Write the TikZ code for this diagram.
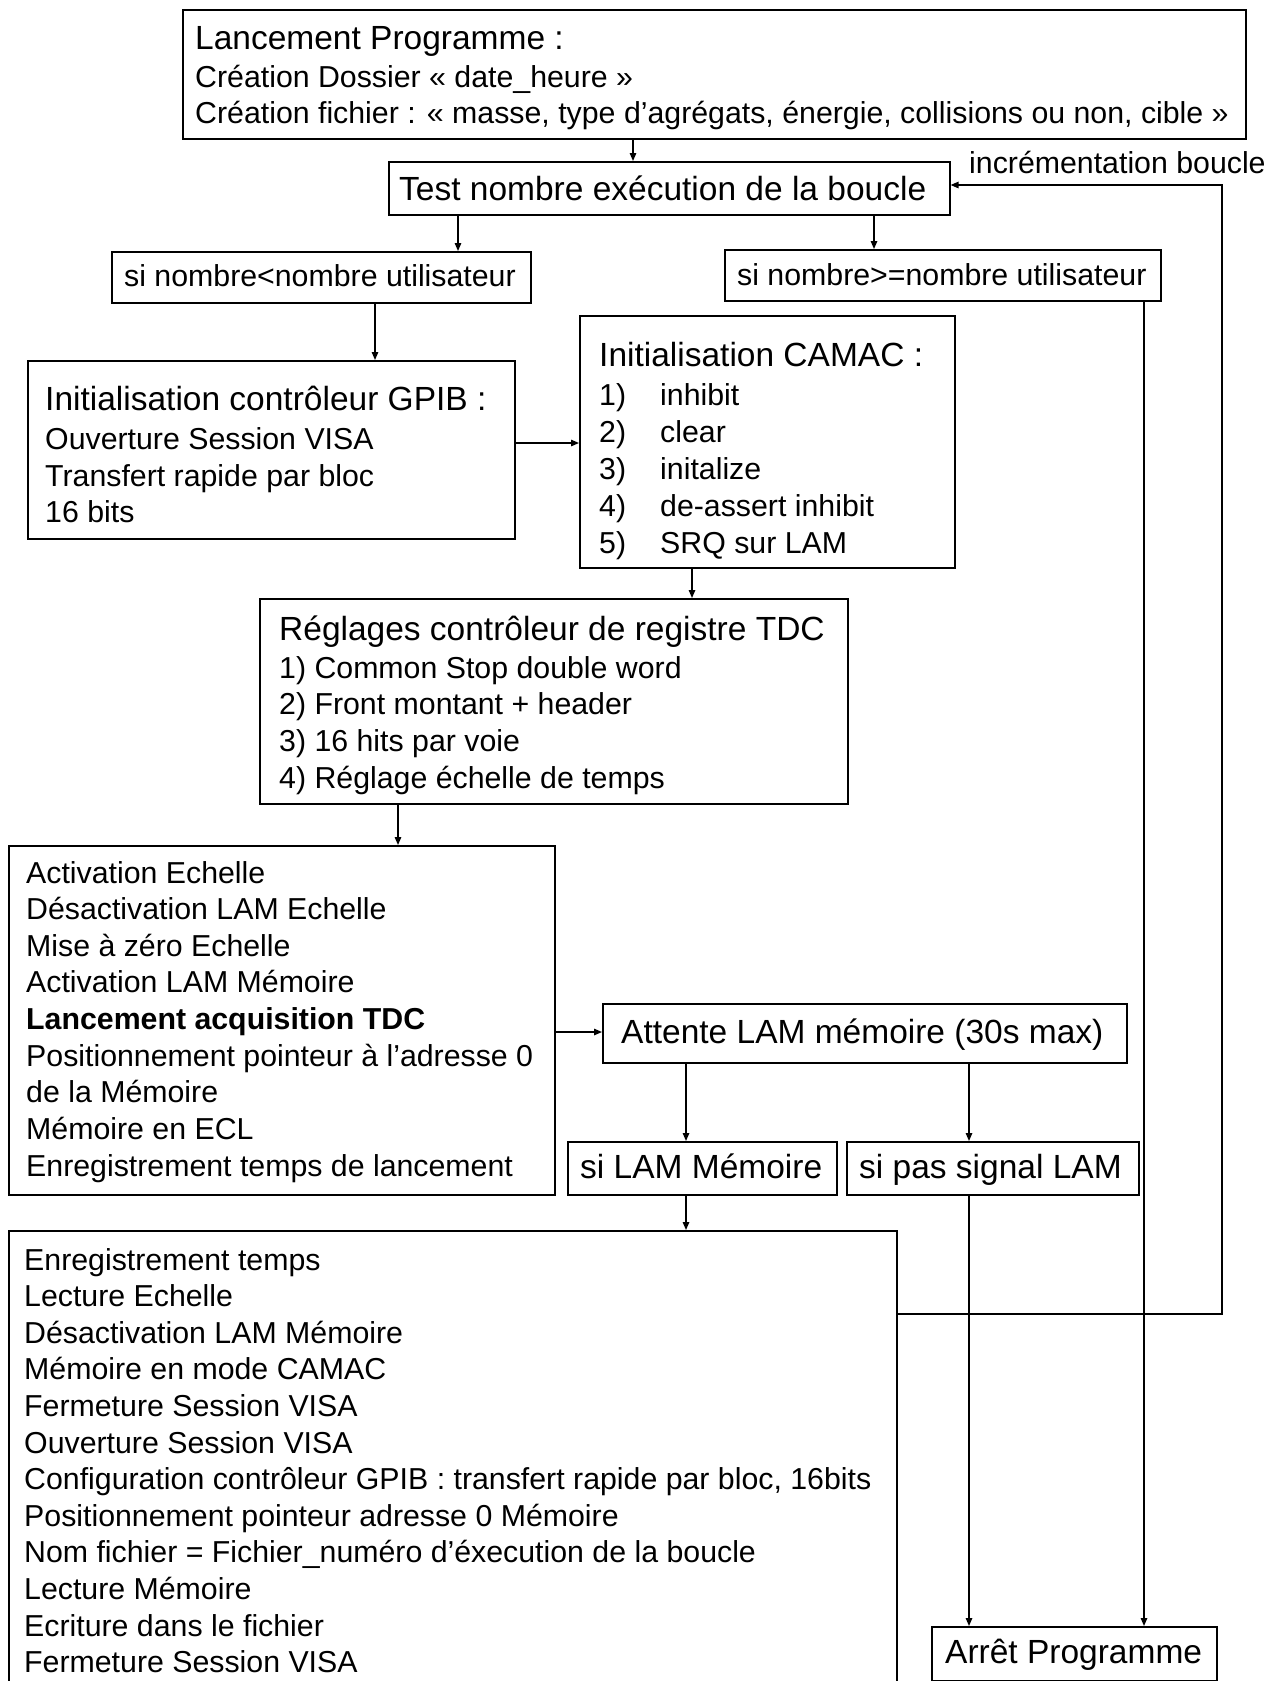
\documentclass[tikz,border=0pt]{standalone}
\usepackage{fontspec}
\setmainfont{Liberation Sans}
\usetikzlibrary{arrows.meta}
\begin{document}
\begin{tikzpicture}[x=1pt,y=-1pt,
  box/.style={draw, line width=1.6pt, inner sep=0pt, anchor=north west},
  tt/.style={anchor=base west, inner sep=0pt, font=\fontsize{33.5}{40}\selectfont},
  bd/.style={anchor=base west, inner sep=0pt, font=\fontsize{30.3}{36}\selectfont},
  arr/.style={line width=1.4pt, -{Triangle[length=8pt,width=6.5pt]}},
  ln/.style={line width=1.4pt}]
\useasboundingbox (0,0) rectangle (1277,1681);
\clip (0,0) rectangle (1277,1681);
\fill[white] (0,0) rectangle (1277,1681);

% boxes
\node[box, minimum width=1063pt, minimum height=129pt] (top) at (182,9) {};
\node[box, minimum width=561pt, minimum height=53pt] (test) at (388,161) {};
\node[box, minimum width=419pt, minimum height=51pt] (sinf) at (111,251) {};
\node[box, minimum width=436pt, minimum height=51pt] (ssup) at (724,249) {};
\node[box, minimum width=487pt, minimum height=178pt] (gpib) at (27,360) {};
\node[box, minimum width=375pt, minimum height=252pt] (camac) at (579,315) {};
\node[box, minimum width=588pt, minimum height=205pt] (tdc) at (259,598) {};
\node[box, minimum width=546pt, minimum height=349pt] (activ) at (8,845) {};
\node[box, minimum width=524pt, minimum height=59pt] (attente) at (602,1003) {};
\node[box, minimum width=269pt, minimum height=53pt] (silam) at (567,1141) {};
\node[box, minimum width=292pt, minimum height=53pt] (sipas) at (846,1141) {};
\node[box, minimum width=888pt, minimum height=480pt] (enreg) at (8,1230) {};
\node[box, minimum width=285pt, minimum height=54pt] (arret) at (931,1626) {};

% texts
\node[tt] (top-t1) at (195,49) {Lancement Programme :};
\node[bd] (top-t2) at (195,87) {Création Dossier « date\_heure »};
\node[bd] (top-t3) at (195,123) {Création fichier : « masse, type d’agrégats, énergie, collisions ou non, cible »};
\node[tt] (test-t) at (399,200) {Test nombre exécution de la boucle};
\node[bd] (incr) at (969,173) {incrémentation boucle};
\node[bd] (sinf-t) at (124,286) {si nombre<nombre utilisateur};
\node[bd] (ssup-t) at (737,285) {si nombre>=nombre utilisateur};
\node[tt] (gpib-t1) at (45,410) {Initialisation contrôleur GPIB :};
\node[bd] (gpib-t2) at (45,449) {Ouverture Session VISA};
\node[bd] (gpib-t3) at (45,486) {Transfert rapide par bloc};
\node[bd] (gpib-t4) at (45,522) {16 bits};
\node[tt] (camac-t) at (599,366) {Initialisation CAMAC :};
\foreach \t [count=\i from 1] in {inhibit,clear,initalize,de-assert inhibit,SRQ sur LAM}{
  \node[bd] (camac-n\i) at (599,405+37*\i-37) {\i)};
  \node[bd] (camac-i\i) at (660,405+37*\i-37) {\t};
}
\node[tt] (tdc-t) at (279,640) {Réglages contrôleur de registre TDC};
\foreach \t [count=\i from 1] in {1) Common Stop double word,2) Front montant + header,3) 16 hits par voie,4) Réglage échelle de temps}{
  \node[bd] (tdc-i\i) at (279,678+36.7*\i-36.7) {\t};
}
\foreach \t [count=\i from 0] in {Activation Echelle,Désactivation LAM Echelle,Mise à zéro Echelle,Activation LAM Mémoire,{\bfseries Lancement acquisition TDC},Positionnement pointeur à l’adresse 0,de la Mémoire,Mémoire en ECL,Enregistrement temps de lancement}{
  \node[bd] (activ-l\i) at (26,883+36.65*\i) {\t};
}
\node[tt] (attente-t) at (621,1043) {Attente LAM mémoire (30s max)};
\node[tt] (silam-t) at (580,1178) {si LAM Mémoire};
\node[tt] (sipas-t) at (859,1178) {si pas signal LAM};
\foreach \t [count=\i from 0] in {Enregistrement temps,Lecture Echelle,Désactivation LAM Mémoire,Mémoire en mode CAMAC,Fermeture Session VISA,Ouverture Session VISA,{Configuration contrôleur GPIB : transfert rapide par bloc, 16bits},Positionnement pointeur adresse 0 Mémoire,Nom fichier = Fichier\_numéro d’éxecution de la boucle,Lecture Mémoire,Ecriture dans le fichier,Fermeture Session VISA}{
  \node[bd] (enreg-l\i) at (24,1270+36.6*\i) {\t};
}
\node[tt] (arret-t) at (945,1663) {Arrêt Programme};

% column / row helpers
\coordinate (xa) at (633,0);
\coordinate (xb) at (458,0);
\coordinate (xc) at (874,0);
\coordinate (xd) at (375,0);
\coordinate (ya) at (0,443);
\coordinate (xe) at (692,0);
\coordinate (xf) at (398,0);
\coordinate (yb) at (0,1032);
\coordinate (xg) at (686,0);
\coordinate (xh) at (969,0);
\coordinate (xi) at (1144,0);
\coordinate (fbl) at (1222,1314);
\coordinate (fbt) at (1222,185);

% connectors
\draw[arr] (top.south -| xa) -- (test.north -| xa);
\draw[arr] (test.south -| xb) -- (sinf.north -| xb);
\draw[arr] (test.south -| xc) -- (ssup.north -| xc);
\draw[arr] (sinf.south -| xd) -- (gpib.north -| xd);
\draw[arr] (gpib.east |- ya) -- (camac.west |- ya);
\draw[arr] (camac.south -| xe) -- (tdc.north -| xe);
\draw[arr] (tdc.south -| xf) -- (activ.north -| xf);
\draw[arr] (activ.east |- yb) -- (attente.west |- yb);
\draw[arr] (attente.south -| xg) -- (silam.north -| xg);
\draw[arr] (attente.south -| xh) -- (sipas.north -| xh);
\draw[arr] (silam.south -| xg) -- (enreg.north -| xg);
\draw[arr] (sipas.south -| xh) -- (arret.north -| xh);
\draw[arr] (ssup.south -| xi) -- (arret.north -| xi);
\draw[arr] (enreg.east |- fbl) -- (fbl) -- (fbt) -- (test.east |- fbt);
\end{tikzpicture}
\end{document}
